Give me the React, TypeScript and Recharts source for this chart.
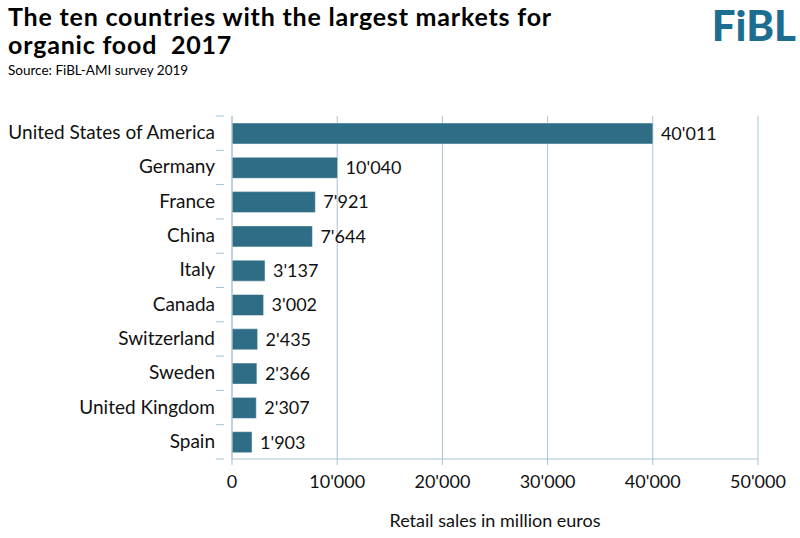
import { Bar, BarChart, CartesianGrid, LabelList, XAxis, YAxis } from "recharts";

const countries = [
  "United States of America",
  "Germany",
  "France",
  "China",
  "Italy",
  "Canada",
  "Switzerland",
  "Sweden",
  "United Kingdom",
  "Spain",
];
const sales = [40011, 10040, 7921, 7644, 3137, 3002, 2435, 2366, 2307, 1903];
const xTicks = [0, 10000, 20000, 30000, 40000, 50000];

const data = countries.map((country, i) => ({ country, sales: sales[i] }));

const FONT = "Lato, 'Open Sans', sans-serif";
const BAR = "#2f6c86";
const GRID = "#a8c3d3";

// Swiss style thousands separator: 40'011
function fmt(v: number): string {
  return String(Math.round(v)).replace(/\B(?=(\d{3})+(?!\d))/g, "'");
}

const PLOT_TOP = 116;
const PLOT_BOTTOM = 459;
const BAND = (PLOT_BOTTOM - PLOT_TOP) / countries.length;

function CountryTick(props: any) {
  const { x, y, payload, index } = props;
  const axisX = x;
  return (
    <g>
      <line x1={axisX - 8} x2={axisX} y1={y - BAND / 2} y2={y - BAND / 2} stroke={GRID} />
      {index === countries.length - 1 && (
        <line x1={axisX - 8} x2={axisX} y1={y + BAND / 2} y2={y + BAND / 2} stroke={GRID} />
      )}
      <text x={x - 9} y={y} dy={6} textAnchor="end" fill="#111" fontSize={19} fontFamily={FONT}>
        {payload.value}
      </text>
    </g>
  );
}

export default function App() {
  return (
    <div style={{ position: "absolute", left: 0, top: 0, width: 800, height: 538, background: "#fff" }}>
      <div
        style={{
          position: "absolute",
          left: 8,
          top: 2,
          fontFamily: FONT,
          fontWeight: 700,
          fontSize: 25,
          lineHeight: "28px",
          letterSpacing: 0.8,
          color: "#000",
        }}
      >
        The ten countries with the largest markets for
        <br />
        organic food&nbsp; 2017
      </div>
      <div style={{ position: "absolute", left: 8, top: 62, fontFamily: FONT, fontSize: 13.5, color: "#000" }}>
        Source: FiBL-AMI survey 2019
      </div>
      <div
        style={{
          position: "absolute",
          right: 4,
          top: 3,
          fontFamily: FONT,
          fontWeight: 900,
          fontSize: 42,
          lineHeight: "44px",
          color: "#1b6e8f",
        }}
      >
        FiBL
      </div>
      <BarChart
        width={800}
        height={538}
        data={data}
        layout="vertical"
        margin={{ top: PLOT_TOP, right: 42, bottom: 538 - PLOT_BOTTOM - 70, left: 0 }}
      >
        <CartesianGrid horizontal={false} stroke={GRID} strokeWidth={1} />
        <XAxis
          type="number"
          domain={[0, 50000]}
          ticks={xTicks}
          tickFormatter={fmt}
          stroke={GRID}
          tickSize={6}
          tickMargin={10}
          tick={{ fill: "#111", fontSize: 18, fontFamily: FONT }}
          height={70}
          label={{
            value: "Retail sales in million euros",
            position: "insideBottom",
            offset: 2,
            style: { fill: "#111", fontSize: 18, fontFamily: FONT },
          }}
        />
        <YAxis
          type="category"
          dataKey="country"
          width={232}
          stroke={GRID}
          tickLine={false}
          tick={<CountryTick />}
          interval={0}
        />
        <Bar dataKey="sales" fill={BAR} barSize={21} stroke="#eef4f7" strokeWidth={0.5} isAnimationActive={false}>
          <LabelList
            dataKey="sales"
            position="right"
            offset={8}
            formatter={(v: any) => fmt(Number(v))}
            style={{ fill: "#111", fontSize: 18, fontFamily: FONT }}
          />
        </Bar>
      </BarChart>
    </div>
  );
}
